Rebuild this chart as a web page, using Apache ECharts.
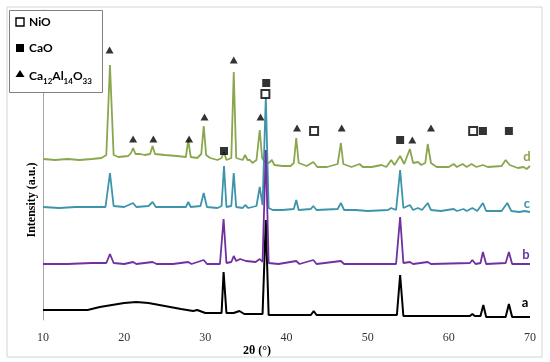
<!DOCTYPE html>
<html>
<head>
<meta charset="utf-8">
<script src="https://cdn.jsdelivr.net/npm/echarts@6/dist/echarts.min.js"></script>
<style>html,body{margin:0;padding:0;background:#fff;}#chart{width:550px;height:362px;}</style>
</head>
<body>
<div id="chart"></div>
<script>
// 2θ (°) and stacked intensity (a.u., offset traces as displayed)
var dData = [[10.0,161],[11.5,160],[13.0,161],[14.5,160],[16.0,161],[17.2,162],[17.8,165],[18.25,255],[18.7,165],[19.3,163],[20.5,164],[20.85,167],[21.1,172],[21.4,166],[22.0,166],[22.2,168],[22.5,165],[23.2,166],[23.5,174],[23.8,166],[25.0,165],[26.5,164],[27.6,163],[27.9,180],[28.2,163],[29.0,162],[29.5,166],[29.8,194],[30.1,165],[30.6,162],[31.5,160],[32.0,162],[32.3,168],[32.6,160],[33.2,162],[33.5,248],[33.8,162],[34.6,160],[34.9,165],[35.2,160],[35.5,160],[35.8,157],[36.3,160],[36.7,190],[37.0,162],[37.3,158],[37.8,157],[38.2,160],[38.5,155],[39.5,154],[40.5,154],[40.9,157],[41.2,182],[41.5,157],[42.5,154],[43.3,158],[43.8,153],[45.0,153],[46.3,156],[46.7,177],[47.0,156],[48.0,153],[49.0,156],[49.4,153],[50.5,153],[51.7,155],[52.3,153],[52.9,160],[53.3,155],[54.0,164],[54.5,156],[55.2,171],[55.6,157],[56.2,158],[56.6,155],[57.1,157],[57.4,176],[57.8,157],[58.5,153],[60.0,153],[60.6,156],[61.0,153],[61.7,156],[62.2,153],[62.8,156],[63.4,153],[64.2,155],[64.8,153],[66.5,154],[67.0,160],[67.5,155],[68.5,152],[69.2,153],[69.6,151],[70.0,154]];
var cData = [[10,113],[12,112],[14,113],[16,113],[17.7,113],[18.25,147],[18.7,114],[20,113],[21.1,117],[21.5,113],[23.0,114],[23.5,118],[23.9,113],[25.5,113],[27.6,113],[27.9,118],[28.2,113],[29.4,114],[29.8,127],[30.2,113],[31.5,112],[32.0,114],[32.3,154],[32.6,113],[33.2,114],[33.5,147],[33.8,113],[34.6,112],[34.9,115],[35.3,112],[36.3,114],[36.7,133],[37.05,115],[37.45,223],[37.8,112],[38.3,110],[39.5,110],[40.9,111],[41.2,120],[41.5,110],[43.0,111],[43.3,114],[43.7,110],[46.3,111],[46.7,117],[47.1,110],[48.5,110],[50.0,109],[52.5,110],[52.9,112],[53.5,110],[54.0,150],[54.4,112],[55.2,115],[55.6,110],[56.2,112],[56.7,110],[57.4,117],[57.8,110],[59.0,109],[60.6,111],[61.0,109],[61.8,111],[62.2,109],[62.9,112],[63.5,109],[64.2,117],[64.6,109],[66.5,109],[67.2,117],[67.7,109],[68.7,108],[69.3,109],[70.0,108]];
var bData = [[10,56],[13,56],[16,57],[17.8,57],[18.25,66],[18.7,57],[20,56],[21.1,58],[21.5,56],[23.5,58],[24,56],[26,56],[27.9,58],[28.3,56],[29.8,60],[30.2,56],[31.8,56],[32.25,101],[32.6,57],[33.2,58],[33.5,64],[33.8,59],[34.3,61],[35.0,59],[36.2,58],[36.7,61],[37.05,58],[37.45,170],[37.8,57],[39,56],[41.2,59],[41.6,56],[43.3,60],[43.7,56],[46.7,59],[47.1,56],[50,56],[53.5,56],[54.0,103],[54.4,57],[55.2,58],[55.6,56],[57.4,58],[57.8,56],[62.6,57],[62.9,60],[63.3,56],[63.9,57],[64.2,68],[64.6,56],[67.0,57],[67.4,68],[67.8,56],[70,56]];
var aData = [[10,10],[12,10],[14,10],[15.5,10],[17,13],[18.5,15],[20,17],[21.5,18],[23,17],[25,14],[27,11],[28.5,9],[29,10],[30,7],[31.5,7],[32.0,7],[32.25,48],[32.6,7],[33.5,7],[34.2,9],[34.8,6],[37.05,6],[37.45,100],[37.8,5],[40,5],[43.0,5],[43.35,9],[43.7,5],[47,5],[50,5],[53.6,5],[54.0,45],[54.4,4],[58,4],[62.6,4],[62.9,6],[63.2,4],[63.9,4],[64.25,15],[64.6,3],[67.0,3],[67.4,16],[67.8,3],[70,3]];

// phase markers
var ca12Markers = [[18.2,270],[21.1,181],[23.6,181],[28.0,181],[29.9,203],[33.5,260],[36.8,203],[41.3,192],[46.8,192],[55.5,180],[57.8,192]];
var caoMarkers = [[32.3,169],[37.5,237],[54.0,180],[64.2,189],[67.4,189]];
var nioMarkers = [[37.4,226],[43.4,189],[63.0,189]];

var xTicks = [10,20,30,40,50,60,70];
var traceNames = ['a','b','c','d'];
var traceColors = ['#000000','#7030a0','#3d94ab','#8aa64e'];

var chart = echarts.init(document.getElementById('chart'), null, {renderer:'canvas'});
var sans = 'Lato, "Open Sans", sans-serif';
var serif = '"Liberation Serif", "DejaVu Serif", serif';

function lineSeries(name, data, color, w) {
  return {name:name, type:'line', data:data, symbol:'none', smooth:false,
    lineStyle:{color:color, width:w}, animation:false, silent:true};
}

var option = {
  animation:false,
  grid:{left:43, right:20, top:10, bottom:42},
  xAxis:{type:'value', min:10, max:70, interval:10,
    axisLine:{show:false}, axisTick:{show:false}, splitLine:{show:false},
    axisLabel:{margin:12, color:'#333', fontFamily:serif, fontSize:12,
      formatter:function(v){return xTicks.indexOf(v)>=0 ? String(v) : '';}}},
  yAxis:{type:'value', min:0, max:310,
    axisLine:{show:true, lineStyle:{color:'#a6a6a6', width:1}},
    axisTick:{show:false}, axisLabel:{show:false}, splitLine:{show:false}},
  series:[
    lineSeries(traceNames[0], aData, traceColors[0], 2),
    lineSeries(traceNames[3], dData, traceColors[3], 1.8),
    lineSeries(traceNames[2], cData, traceColors[2], 1.8),
    lineSeries(traceNames[1], bData, traceColors[1], 1.8),
    {type:'scatter', data:ca12Markers, symbol:'triangle', symbolSize:[8,7], itemStyle:{color:'#000'}, z:5},
    {type:'scatter', data:caoMarkers, symbol:'rect', symbolSize:8, itemStyle:{color:'#000'}, z:5},
    {type:'scatter', data:nioMarkers, symbol:'emptyRect', symbolSize:8, itemStyle:{color:'#000', borderWidth:1.3}, z:5}
  ],
  graphic:[
    {type:'rect', shape:{x:7, y:7, width:535, height:350}, style:{fill:'none', stroke:'#d4d4d4', lineWidth:1}, z:-1, silent:true},
    {type:'rect', shape:{x:9.5, y:10.5, width:93, height:82}, style:{fill:'#fff', stroke:'#808080', lineWidth:1}, z:10},
    {type:'rect', shape:{x:16, y:18, width:8, height:8}, style:{fill:'#fff', stroke:'#000', lineWidth:1.4}, z:11},
    {type:'text', x:29, y:22, style:{text:'NiO', fill:'#000', font:'bold 12px '+sans, textVerticalAlign:'middle'}, z:11},
    {type:'rect', shape:{x:16, y:44, width:8, height:8}, style:{fill:'#000'}, z:11},
    {type:'text', x:29, y:48, style:{text:'CaO', fill:'#000', font:'bold 12px '+sans, textVerticalAlign:'middle'}, z:11},
    {type:'polygon', shape:{points:[[20,70],[24.5,77],[15.5,77]]}, style:{fill:'#000'}, z:11},
    {type:'text', x:29, y:68, style:{
      text:'{n|Ca}{s|12}{n|Al}{s|14}{n|O}{s|33}',
      rich:{n:{fontSize:12, fontWeight:'bold', fontFamily:sans, fill:'#000', lineHeight:14, verticalAlign:'bottom'},
            s:{fontSize:8, fontWeight:'bold', fontFamily:sans, fill:'#000', lineHeight:14, verticalAlign:'bottom', padding:[0,0,-3,0]}}}, z:11},
    {type:'text', x:527, y:157, style:{text:'d', fill:traceColors[3], font:'bold 13px '+sans, textAlign:'center', textVerticalAlign:'middle'}},
    {type:'text', x:527, y:204, style:{text:'c', fill:traceColors[2], font:'bold 13px '+sans, textAlign:'center', textVerticalAlign:'middle'}},
    {type:'text', x:526, y:255, style:{text:'b', fill:traceColors[1], font:'bold 13px '+sans, textAlign:'center', textVerticalAlign:'middle'}},
    {type:'text', x:525, y:303, style:{text:'a', fill:traceColors[0], font:'bold 13px '+sans, textAlign:'center', textVerticalAlign:'middle'}},
    {type:'text', x:257, y:351, style:{text:'2θ (°)', fill:'#000', font:'bold 12px '+serif, textAlign:'center', textVerticalAlign:'middle'}},
    {type:'text', x:32, y:200, rotation:Math.PI/2, style:{text:'Intensity (a.u.)', fill:'#000', font:'bold 12px '+serif, textAlign:'center', textVerticalAlign:'middle'}}
  ]
};
chart.setOption(option);
</script>
</body>
</html>
